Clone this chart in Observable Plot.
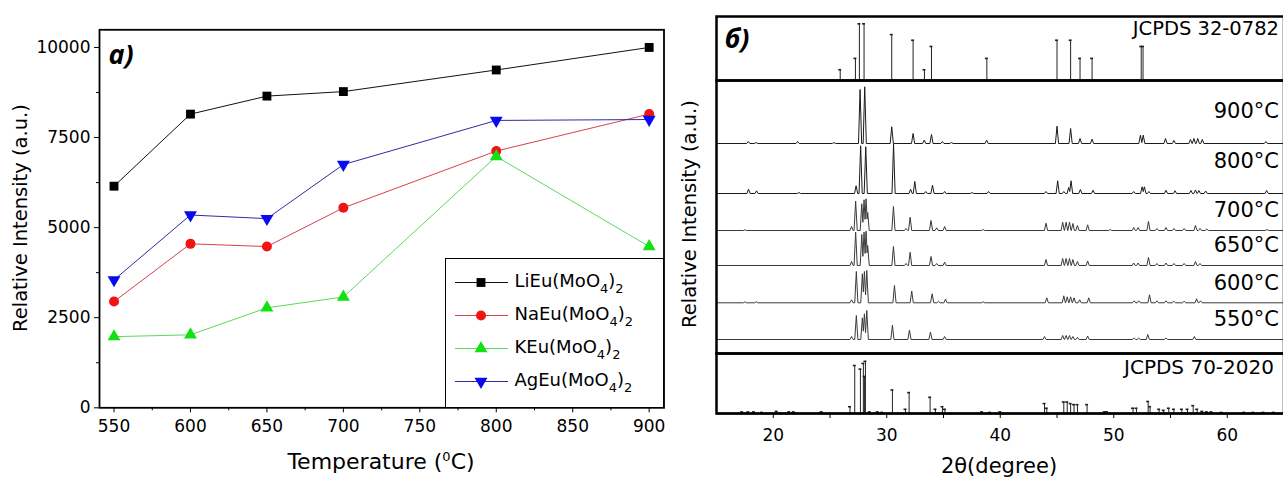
<!DOCTYPE html>
<html><head><meta charset="utf-8">
<script src="https://cdn.jsdelivr.net/npm/d3@7"></script>
<script src="https://cdn.jsdelivr.net/npm/@observablehq/plot@0.6"></script>
<style>
body{margin:0;background:#fff;font-family:"DejaVu Sans",sans-serif;color:#000;}
#fig{position:relative;width:1283px;height:477px;overflow:hidden;background:#fff;}
.abs{position:absolute;white-space:nowrap;line-height:1;}
.ctr{transform:translate(-50%,-50%);}
.rot{transform:translate(-50%,-50%) rotate(-90deg);}
.tag{font-family:"Open Sans","DejaVu Sans",sans-serif;font-weight:700;font-style:italic;font-size:27px;}
.sub{font-size:13px;position:relative;top:6px;}
.sup{font-size:13px;position:relative;top:-8px;}
svg{overflow:visible;}
</style></head><body>
<div id="fig"></div>
<script>
// ---------- Panel a) data ----------
const temperatures = [550, 600, 650, 700, 800, 900];
const seriesNames = ["LiEu(MoO4)2", "NaEu(MoO4)2", "KEu(MoO4)2", "AgEu(MoO4)2"];
const liValues = [6150, 8150, 8650, 8775, 9375, 10000];
const naValues = [2950, 4550, 4475, 5550, 7125, 8150];
const kValues  = [1975, 2025, 2775, 3075, 6975, 4475];
const agValues = [3550, 5350, 5250, 6750, 7975, 8000];
const yTicksMajor = [0, 2500, 5000, 7500, 10000];
const yTicksMinor = [1250, 3750, 6250, 8750];
const xTicksMajor = [550, 600, 650, 700, 750, 800, 850, 900];
const xTicksMinor = [575, 625, 675, 725, 775, 825, 875];

// ---------- Panel б) data ----------
const xrdTicks = [20, 25, 30, 35, 40, 45, 50, 55, 60];
const ref32Pos = [25.9, 27.24, 27.59, 28.0, 30.44, 32.32, 33.32, 33.94, 38.82, 45.0, 46.2, 47.03, 48.09, 52.42, 52.58];
const ref32Int = [19, 39, 100, 100, 81, 71, 19, 60, 39, 71, 71, 39, 39, 60, 60];
const ref70Pos = [17.26,17.8,18.3,19.0,20.3,21.4,21.8,24.26,26.76,27.18,27.68,27.94,28.05,28.12,28.5,29.2,29.6,30.5,31.65,31.97,33.82,34.29,34.91,35.12,38.4,39.1,40.0,43.9,44.1,45.6,45.9,46.2,46.5,46.8,47.65,49.2,49.4,51.7,52.0,53.03,53.2,54.0,54.4,54.85,55.3,56.0,56.5,57.0,57.35,57.8,58.2,58.6,59.5,61.5,62.3,63.2,64.1];
const ref70Int = [3,3,3,2,4,3,3,3,13,92,85,96,71,100,3,3,2,45,8,40,31,8,13,8,3,2,3,19,10,22,22,19,17,17,17,3,3,10,10,23,13,8,6,10,8,8,8,15,8,4,3,3,2,2,2,2,2];

const xrdLabels  = ["900°C", "800°C", "700°C", "650°C", "600°C", "550°C"];
const xrdOffsets = [210, 160, 123, 88, 50.7, 14];
const p900Pos = [17.8,18.5,22.15,25.35,27.65,28.06,30.44,32.32,33.3,33.94,34.9,35.7,38.8,45.0,46.2,47.03,48.09,52.35,52.6,54.56,55.3,56.76,57.06,57.4,57.8,63.4];
const p900Int = [2,1,2,1,54,56.7,16.7,10,3.3,9,2,1,3.3,17.3,15,5,4.3,8.3,8.3,5,3,4,5,5,4,2];
const p800Pos = [17.82,18.53,22.26,27.3,27.7,28.15,30.6,32.1,32.47,33.44,34.03,35.1,37.5,38.97,44.03,45.06,45.6,46.03,46.24,47.06,48.18,51.76,52.5,52.7,53.1,54.6,55.4,56.8,57.2,57.5,58.1,63.47];
const p800Int = [4.3,2.7,1,7.7,47.7,46.7,49.3,4.3,12,2,8.3,2,1,2,2,12.7,2,6,12.7,4,3.3,2,6.7,6.7,2,3.3,2.7,3,3.5,3,2.5,3];
const p700Pos = [17.5,26.9,27.26,27.8,28.0,28.18,28.32,30.59,31.7,32.06,33.9,34.4,35.1,38.5,44.03,45.5,45.8,46.1,46.4,46.8,47.7,49.7,51.76,52.15,53.06,53.8,54.6,55.3,56.2,57.2,57.6,58.2,63.5];
const p700Int = [0.7,4,29.3,26.7,30.7,31.7,18,24,2,13.3,10,2.7,4,1,7.3,8.3,8.3,8.3,7,5,5.7,1,3,3,9,2,3,2,2,5,2,1.5,1];
const p650Pos = [26.9,27.26,27.8,28.0,28.18,28.32,30.59,31.7,32.06,33.9,34.4,35.1,44.03,45.5,45.8,46.1,46.4,46.8,47.7,51.76,52.15,53.06,53.8,54.6,55.3,56.2,57.2,57.6];
const p650Int = [4,33.3,31,33.3,34.3,20,19,2,13.3,9,2,3.3,6,7,7,7,6,4,4.5,2.5,2.5,8,2,2.5,2,2,4,2];
const p600Pos = [17.5,18.5,26.9,27.32,27.85,28.03,28.24,30.68,32.2,34.0,34.56,35.18,38.5,44.1,45.6,45.9,46.2,46.5,47.0,47.8,51.8,52.2,53.15,53.8,54.6,55.3,56.2,57.3,57.65];
const p600Int = [1,1,3,31.3,29,31.3,32.3,17.3,11.7,9,1.5,3.7,1,5,7,6,6,5,3,5,2,2,8,2,2,1.5,1.5,4,2];
const p550Pos = [26.9,27.32,27.85,28.03,28.24,30.5,32.0,33.85,35.1,43.9,45.5,45.8,46.1,46.4,46.8,47.7,51.8,52.2,53.0,54.6,57.1];
const p550Int = [3,24,21.7,25.7,29,14.3,9.3,7.3,3,3,4,4,4,3,2,3.5,1.5,1.5,5,1.5,3];

// ---------- styles ----------
const sqrt3 = Math.sqrt(3);
const triangleDown = {
  draw(context, size) {
    const y = -Math.sqrt(size / (sqrt3 * 3));
    context.moveTo(0, -y * 2);
    context.lineTo(-sqrt3 * y, y);
    context.lineTo(sqrt3 * y, y);
    context.closePath();
  }
};
const seriesStyle = [
  {line: "#111111", fill: "#000000", symbol: "square", r: 5},
  {line: "#d8404c", fill: "#f01414", symbol: "circle", r: 5},
  {line: "#5cd85c", fill: "#14e014", symbol: "triangle", r: 4.8},
  {line: "#2c2ca6", fill: "#0a0af0", symbol: triangleDown, r: 4.8}
];
const fig = document.getElementById("fig");
function place(el, left, top) {
  const d = document.createElement("div");
  const w = +el.getAttribute("width"), h = +el.getAttribute("height");
  d.style.cssText = `position:absolute;left:${left}px;top:${top}px;width:${w}px;height:${h}px;`;
  el.style.maxWidth = "none";
  el.style.width = w + "px";
  el.style.height = h + "px";
  d.appendChild(el); fig.appendChild(d);
}
function addText(html, x, y, cls, css) {
  const d = document.createElement("div");
  d.className = "abs " + cls;
  d.style.left = x + "px"; d.style.top = y + "px";
  if (css) d.style.cssText += css;
  d.innerHTML = html; fig.appendChild(d);
  return d;
}

// ---------- Panel a) ----------
const seriesValues = [liValues, naValues, kValues, agValues];
const rows = seriesNames.flatMap((s, i) => temperatures.map((t, j) => ({series: s, t, v: seriesValues[i][j]})));
const leftMarks = [
  Plot.axisY({ticks: yTicksMajor, tickSize: 5, tickPadding: 4, label: null, tickFormat: d => String(d)}),
  Plot.axisY({ticks: yTicksMinor, tickSize: 3, label: null, tickFormat: () => ""}),
  Plot.axisX({ticks: xTicksMajor, tickSize: 5, tickPadding: 7, label: null, tickFormat: d => String(d)}),
  Plot.axisX({ticks: xTicksMinor, tickSize: 3, label: null, tickFormat: () => ""})
];
seriesNames.forEach((s, i) => {
  leftMarks.push(Plot.line(rows.filter(d => d.series === s), {x: "t", y: "v", stroke: seriesStyle[i].line, strokeWidth: 1}));
});
seriesNames.forEach((s, i) => {
  leftMarks.push(Plot.dot(rows.filter(d => d.series === s), {x: "t", y: "v", fill: seriesStyle[i].fill, symbol: seriesStyle[i].symbol, r: seriesStyle[i].r}));
});
leftMarks.push(Plot.frame({stroke: "#000", strokeWidth: 1.8}));
const left = Plot.plot({
  width: 680, height: 477,
  marginLeft: 99, marginRight: 16.5, marginTop: 29.3, marginBottom: 69.7,
  x: {domain: [540.5, 909.7]},
  y: {domain: [0, 10490]},
  style: {fontFamily: "DejaVu Sans", fontSize: "17px", color: "#000", background: "transparent"},
  marks: leftMarks
});
place(left, 0, 0);

// legend
const legend = document.createElement("div");
legend.style.cssText = "position:absolute;left:444.5px;top:257.5px;width:219px;height:150px;border:1.5px solid #000;box-sizing:border-box;background:#fff;";
fig.appendChild(legend);
const lsvg = d3.select(legend).append("svg").attr("width", 216).attr("height", 147)
  .style("position", "absolute").style("left", "0").style("top", "0");
seriesNames.forEach((s, i) => {
  const cy = 23.5 + 33 * i;
  const st = seriesStyle[i];
  lsvg.append("line").attr("x1", 9).attr("x2", 62).attr("y1", cy).attr("y2", cy)
    .attr("stroke", st.line).attr("stroke-width", 1);
  const sym = typeof st.symbol === "string"
    ? {square: d3.symbolSquare, circle: d3.symbolCircle, triangle: d3.symbolTriangle}[st.symbol]
    : st.symbol;
  lsvg.append("path").attr("d", d3.symbol(sym, Math.PI * st.r * st.r)())
    .attr("transform", `translate(35,${cy})`).attr("fill", st.fill);
  const base = s.replace(/4\)2$/, "");
  const t = document.createElement("div");
  t.className = "abs";
  t.style.cssText = `left:69px;top:${cy - 1}px;transform:translateY(-50%);font-size:18px;`;
  t.innerHTML = `${base}<span class="sub">4</span>)<span class="sub">2</span>`;
  legend.appendChild(t);
});

addText("a)", 121, 53, "ctr tag");
addText("Relative Intensity (a.u.)", 21, 218, "rot", "font-size:19.5px;");
addText('Temperature (<span class="sup">0</span>C)', 381, 462, "ctr", "font-size:22px;");

// ---------- Panel б) ----------
const XR = [15, 65];
function stickRows(pos, ints) { return pos.map((p, i) => ({p, h: ints[i]})); }
function profile(pos, ints, off) {
  const w = 0.14;
  const pts = [{x: XR[0], y: off}];
  for (let i = 0; i < pos.length; i++) {
    const p = pos[i], h = ints[i];
    if (i > 0 && p - w < pos[i - 1] + w) {
      pts.pop();
      const p1 = pos[i - 1], h1 = ints[i - 1];
      const x = (w * (h1 - h) + h1 * p1 + h * p) / (h1 + h);
      pts.push({x, y: off + h1 * (1 - (x - p1) / w)});
    } else {
      pts.push({x: p - w, y: off});
    }
    pts.push({x: p, y: off + h});
    pts.push({x: p + w, y: off});
  }
  pts.push({x: XR[1], y: off});
  return pts;
}
const common = {width: 600, marginLeft: 16, marginRight: 16.5,
  style: {fontFamily: "DejaVu Sans", fontSize: "17px", color: "#000", background: "transparent"}};

// top reference
const top32 = stickRows(ref32Pos, ref32Int);
const rtop = Plot.plot({
  ...common, height: 82, marginTop: 16, marginBottom: 2,
  x: {domain: XR, axis: null}, y: {domain: [0, 112.9], axis: null},
  marks: [
    Plot.ruleX(top32, {x: "p", y1: 0, y2: "h", stroke: "#222", strokeWidth: 1}),
    Plot.ruleY(top32, {y: "h", x1: d => d.p - 0.13, x2: d => d.p + 0.13, stroke: "#222", strokeWidth: 1.6}),
    Plot.text(["JCPDS 32-0782"], {text: d => d, frameAnchor: "top-right", textAnchor: "end", lineAnchor: "middle", dx: -5, dy: 12.5, fontSize: 19.5}),
    Plot.frame({stroke: "#000", strokeWidth: 2.5})
  ]
});
place(rtop, 700, 0);

// measured patterns
const traceSets = [[p900Pos, p900Int], [p800Pos, p800Int], [p700Pos, p700Int], [p650Pos, p650Int], [p600Pos, p600Int], [p550Pos, p550Int]];
const traceColors = ["#1a1a1a", "#1a1a1a", "#3a3a3a", "#3a3a3a", "#3a3a3a", "#3a3a3a"];
const labelRows = xrdLabels.map((l, i) => ({label: l, off: xrdOffsets[i]}));
const midMarks = traceSets.map(([pos, ints], i) =>
  Plot.line(profile(pos, ints, xrdOffsets[i]), {x: "x", y: "y", stroke: traceColors[i], strokeWidth: 1}));
midMarks.push(
  Plot.text(labelRows.slice(0, 2), {y: "off", text: "label", frameAnchor: "right", textAnchor: "end", dx: -5, dy: -32, fontSize: 21}),
  Plot.text(labelRows.slice(2), {y: "off", text: "label", frameAnchor: "right", textAnchor: "end", dx: -5, dy: -20, fontSize: 21}),
  Plot.frame({stroke: "#000", strokeWidth: 2.5})
);
const rmid = Plot.plot({
  ...common, height: 277, marginTop: 2, marginBottom: 2,
  x: {domain: XR, axis: null}, y: {domain: [0, 273], axis: null},
  marks: midMarks
});
place(rmid, 700, 78);

// bottom reference + axis
const bot70 = stickRows(ref70Pos, ref70Int);
const rbot = Plot.plot({
  ...common, height: 126, marginTop: 2, marginBottom: 64,
  x: {domain: XR}, y: {domain: [0, 115], axis: null},
  marks: [
    Plot.ruleX(bot70, {x: "p", y1: 0, y2: "h", stroke: "#222", strokeWidth: 1}),
    Plot.ruleY(bot70, {y: "h", x1: d => d.p - 0.13, x2: d => d.p + 0.13, stroke: "#222", strokeWidth: 1.6}),
    Plot.ruleY([0], {stroke: "#000", strokeWidth: 2}),
    Plot.text(["JCPDS 70-2020"], {text: d => d, frameAnchor: "top-right", textAnchor: "end", lineAnchor: "middle", dx: -10, dy: 14, fontSize: 20}),
    Plot.axisX({ticks: xrdTicks, tickSize: 5, tickPadding: 10, label: null, tickFormat: d => d % 10 === 0 ? String(d) : ""}),
    Plot.frame({stroke: "#000", strokeWidth: 2.5})
  ]
});
place(rbot, 700, 351);

addText("б)", 737, 37, "ctr tag");
addText("Relative Intensity (a.u.)", 690, 214, "rot", "font-size:19.5px;");
addText("2θ(degree)", 999, 466, "ctr", "font-size:21px;");
</script>
</body></html>
